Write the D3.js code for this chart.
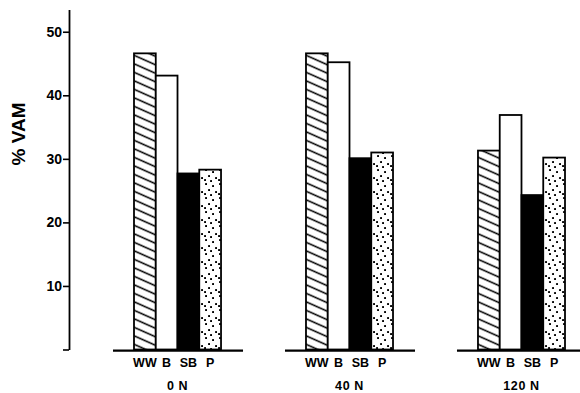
<!DOCTYPE html>
<html>
<head>
<meta charset="utf-8">
<script src="https://cdn.jsdelivr.net/npm/d3@7"></script>
<style>
  html, body { margin: 0; padding: 0; background: #fff; }
  svg { display: block; }
  text { font-family: "Liberation Sans", Arial, sans-serif; font-weight: bold; fill: #000; }
</style>
</head>
<body>
<svg id="chart" width="580" height="393"></svg>
<script>
// Nitrogen treatments (groups) and crop types (bars within each group)
const groups = ["0 N", "40 N", "120 N"];
const crops = ["WW", "B", "SB", "P"];

// % VAM per crop, one value per nitrogen treatment
const valuesWW = [46.6, 46.6, 31.3];
const valuesB  = [43.1, 45.2, 36.9];
const valuesSB = [27.7, 30.1, 24.3];
const valuesP  = [28.3, 31.0, 30.2];

const yTicks = [0, 10, 20, 30, 40, 50];
const yLabel = "% VAM";

const seriesByCrop = { WW: valuesWW, B: valuesB, SB: valuesSB, P: valuesP };

const svg = d3.select("#chart");

// Fill patterns: hatched, plain, solid, dotted
const defs = svg.append("defs");
const hatch = defs.append("pattern")
  .attr("id", "hatch")
  .attr("patternUnits", "userSpaceOnUse")
  .attr("width", 10).attr("height", 8.5)
  .attr("patternTransform", "skewY(24)");
hatch.append("rect").attr("width", 10).attr("height", 8.5).attr("fill", "#fff");
hatch.append("line")
  .attr("x1", 0).attr("x2", 10).attr("y1", 4.25).attr("y2", 4.25)
  .attr("stroke", "#000").attr("stroke-width", 1.7);

const dots = defs.append("pattern")
  .attr("id", "dots")
  .attr("patternUnits", "userSpaceOnUse")
  .attr("width", 14).attr("height", 14);
dots.append("rect").attr("width", 14).attr("height", 14).attr("fill", "#fff");
[[2, 2], [9, 4], [5, 8], [12, 10], [1, 12], [7, 13]].forEach(([cx, cy]) => {
  dots.append("rect").attr("x", cx - 0.9).attr("y", cy - 0.9)
    .attr("width", 1.9).attr("height", 1.9).attr("fill", "#000");
});

const fills = { WW: "url(#hatch)", B: "#fff", SB: "#000", P: "url(#dots)" };

// Scales
const y = d3.scaleLinear().domain([0, 53.5]).range([349.5, 9.5]);
const x0 = d3.scaleBand().domain(groups).range([134, 565])
  .paddingInner(0.494).paddingOuter(0);
const x1 = d3.scaleBand().domain(crops).range([0, x0.bandwidth()]).padding(0);

// Y axis
const yAxis = d3.axisLeft(y)
  .tickValues(yTicks)
  .tickSize(6)
  .tickSizeOuter(0)
  .tickPadding(1)
  .tickFormat(d => d === 0 ? "" : d);
const gy = svg.append("g").attr("transform", "translate(69,0)").call(yAxis);
gy.select(".domain").attr("stroke", "#000").attr("stroke-width", 1.8);
gy.selectAll(".tick line").attr("stroke", "#000").attr("stroke-width", 1.6);
gy.selectAll(".tick text")
  .attr("font-size", 14)
  .attr("font-family", "Liberation Sans, Arial, sans-serif")
  .attr("font-weight", "bold");

svg.append("text")
  .attr("transform", "translate(25,134) rotate(-90)")
  .attr("text-anchor", "middle")
  .attr("font-size", 19)
  .text(yLabel);

// Bars
const gGroups = svg.selectAll("g.group")
  .data(groups)
  .join("g")
  .attr("class", "group")
  .attr("transform", d => `translate(${x0(d)},0)`);

gGroups.selectAll("rect.bar")
  .data((g, gi) => crops.map(c => ({ crop: c, value: seriesByCrop[c][gi] })))
  .join("rect")
  .attr("class", "bar")
  .attr("x", d => x1(d.crop))
  .attr("y", d => y(d.value))
  .attr("width", x1.bandwidth())
  .attr("height", d => y(0) - y(d.value))
  .attr("fill", d => fills[d.crop])
  .attr("stroke", "#000")
  .attr("stroke-width", 1.8);

// Baseline segment under each group
gGroups.append("line")
  .attr("x1", -21).attr("x2", x0.bandwidth() + 22)
  .attr("y1", y(0) + 1.2).attr("y2", y(0) + 1.2)
  .attr("stroke", "#000").attr("stroke-width", 2.2);

// Crop labels
gGroups.selectAll("text.crop")
  .data(crops)
  .join("text")
  .attr("class", "crop")
  .attr("x", d => x1(d) + x1.bandwidth() / 2)
  .attr("y", 367)
  .attr("text-anchor", "middle")
  .attr("font-size", 12.5)
  .text(d => d);

// Group labels
gGroups.append("text")
  .attr("x", x0.bandwidth() / 2)
  .attr("y", 390)
  .attr("text-anchor", "middle")
  .attr("font-size", 12.5)
  .attr("letter-spacing", 0.6)
  .text(d => d);
</script>
</body>
</html>
